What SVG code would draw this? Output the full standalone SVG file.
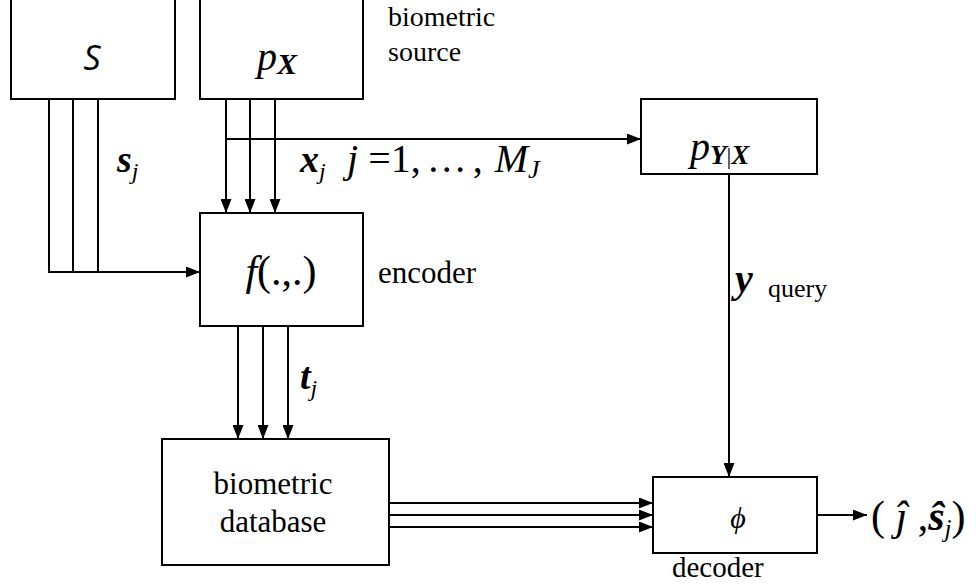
<svg xmlns="http://www.w3.org/2000/svg" width="976" height="588" viewBox="0 0 976 588" font-family="Liberation Serif, Times New Roman, serif">
<style>
.box{fill:#fff;stroke:#000;stroke-width:2}
.ln{fill:none;stroke:#000;stroke-width:2}
.arr{fill:none;stroke:#000;stroke-width:2;marker-end:url(#ah)}
</style>
<defs>
<marker id="ah" viewBox="0 0 14 11" refX="14" refY="5.5" markerWidth="14" markerHeight="11" markerUnits="userSpaceOnUse" orient="auto">
<path d="M0,0 L14,5.5 L0,11 Z" fill="#000"/>
</marker>
</defs>
<rect width="976" height="588" fill="#fff"/>
<g id="connectors">
<polyline class="ln" points="49,99 49,272 190,272"/>
<line class="ln" x1="73" y1="99" x2="73" y2="272"/>
<line class="ln" x1="98" y1="99" x2="98" y2="272"/>
<line class="arr" x1="49" y1="272" x2="200" y2="272"/>
<line class="arr" x1="226" y1="99" x2="226" y2="213"/>
<line class="arr" x1="250" y1="99" x2="250" y2="213"/>
<line class="arr" x1="275" y1="99" x2="275" y2="213"/>
<line class="arr" x1="226" y1="139" x2="641" y2="139"/>
<line class="arr" x1="238" y1="326" x2="238" y2="439"/>
<line class="arr" x1="263" y1="326" x2="263" y2="439"/>
<line class="arr" x1="288" y1="326" x2="288" y2="439"/>
<line class="arr" x1="729" y1="174" x2="729" y2="477"/>
<line class="arr" x1="389" y1="503" x2="653" y2="503"/>
<line class="arr" x1="389" y1="515" x2="653" y2="515"/>
<line class="arr" x1="389" y1="527" x2="653" y2="527"/>
<line class="arr" x1="817" y1="515" x2="867" y2="515"/>
</g>
<g id="node-S">
<rect class="box" x="11" y="-2" width="164" height="101"/>
<text x="92" y="70" font-family="Open Sans, Liberation Sans, sans-serif" font-size="34" font-style="italic" text-anchor="middle">S</text>
</g>
<g id="node-pX">
<rect class="box" x="200" y="-2" width="163" height="101"/>
<text x="257" y="70" font-size="40" font-style="italic">p<tspan font-weight="bold" font-size="30" dy="4">X</tspan></text>
</g>
<g id="label-source">
<text x="388" y="26" font-size="28">biometric</text>
<text x="388" y="61" font-size="28">source</text>
</g>
<g id="node-pYX">
<rect class="box" x="641" y="99" width="176" height="75"/>
<text x="690" y="160" font-size="40" font-style="italic">p<tspan font-weight="bold" font-size="27" dy="4">Y</tspan><tspan font-size="24" font-style="normal">|</tspan><tspan font-weight="bold" font-size="27">X</tspan></text>
</g>
<g id="labels-top">
<text x="117" y="172" font-size="38" font-style="italic" font-weight="bold">s<tspan font-weight="normal" font-size="24" dy="7">j</tspan></text>
<text x="300" y="172" font-size="38" font-style="italic" font-weight="bold">x<tspan font-weight="normal" font-size="24" dy="7">j</tspan></text>
<text x="347" y="172" font-size="40"><tspan font-style="italic">j</tspan> =1,<tspan dx="6">…</tspan><tspan dx="6">,</tspan><tspan font-style="italic" dx="12">M</tspan><tspan font-style="italic" font-size="26" dy="6">J</tspan></text>
</g>
<g id="node-f">
<rect class="box" x="200" y="213" width="163" height="113"/>
<text x="281" y="285" font-size="42" text-anchor="middle"><tspan font-style="italic">f</tspan>(.,.)</text>
<text x="378" y="283" font-size="31">encoder</text>
</g>
<g id="label-t">
<text x="300" y="389" font-size="38" font-style="italic" font-weight="bold">t<tspan font-weight="normal" font-size="24" dy="7">j</tspan></text>
</g>
<g id="label-y">
<text x="735" y="292" font-size="40" font-style="italic" font-weight="bold">y</text>
<text x="768" y="297" font-size="26">query</text>
</g>
<g id="node-db">
<rect class="box" x="162" y="439" width="227" height="126"/>
<text x="273" y="494" font-size="31" text-anchor="middle">biometric</text>
<text x="273" y="532" font-size="31" text-anchor="middle">database</text>
</g>
<g id="node-phi">
<rect class="box" x="653" y="477" width="164" height="76"/>
<text x="738" y="528" font-size="30" font-style="italic" text-anchor="middle">ϕ</text>
<text x="672" y="577" font-size="29">decoder</text>
</g>
<g id="label-out">
<text x="871" y="530" font-size="42">(<tspan font-style="italic"> ĵ</tspan> ,<tspan font-style="italic" font-weight="bold">ŝ</tspan><tspan font-style="italic" font-size="25" dy="7">j</tspan><tspan dy="-7">)</tspan></text>
</g>
</svg>
